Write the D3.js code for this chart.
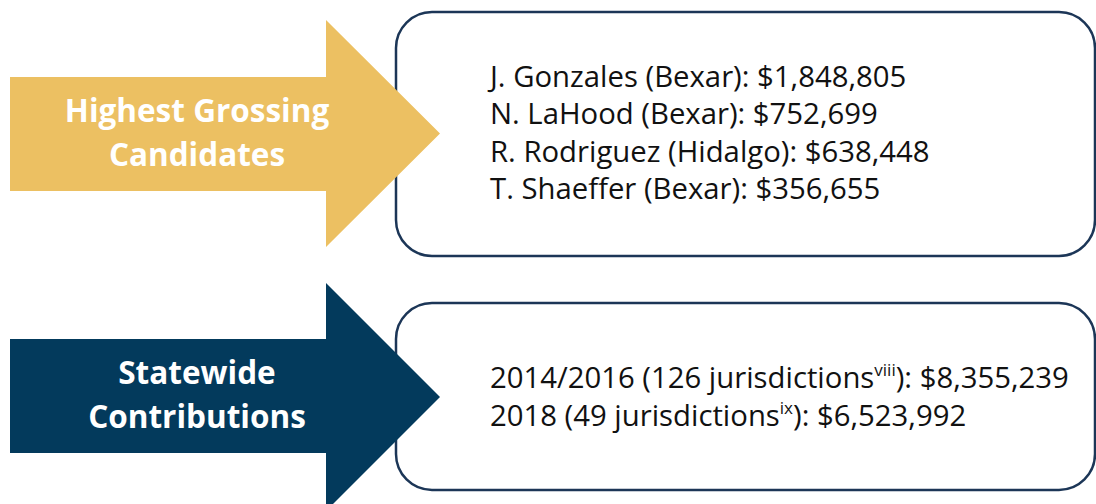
<!DOCTYPE html>
<html>
<head>
<meta charset="utf-8">
<script src="https://cdn.jsdelivr.net/npm/d3@7"></script>
<style>
  html, body { margin: 0; padding: 0; background: #fff; }
  svg { display: block; font-family: "Open Sans", sans-serif; }
</style>
</head>
<body>
<svg id="chart" width="1096" height="504"></svg>
<script>
// data
const panelTitles = [["Highest Grossing", "Candidates"], ["Statewide", "Contributions"]];
const panelColors = ["#ecc062", "#033a5c"];

const candidates = ["J. Gonzales", "N. LaHood", "R. Rodriguez", "T. Shaeffer"];
const counties = ["Bexar", "Bexar", "Hidalgo", "Bexar"];
const candidateTotals = [1848805, 752699, 638448, 356655];

const cycles = ["2014/2016", "2018"];
const jurisdictions = [126, 49];
const notes = ["viii", "ix"];
const cycleTotals = [8355239, 6523992];

const money = d3.format("$,");
const svg = d3.select("#chart");

// layout for the two rows
const rows = [
  { top: 20, bottom: 247, shaftTop: 77, shaftBot: 191, boxTop: 12, boxBot: 256 },
  { top: 283, bottom: 511, shaftTop: 339, shaftBot: 453, boxTop: 303, boxBot: 490 }
];

const arrow = (r) => {
  const mid = (r.top + r.bottom) / 2;
  return `M10,${r.shaftTop} L326,${r.shaftTop} L326,${r.top} L440,${mid} L326,${r.bottom} L326,${r.shaftBot} L10,${r.shaftBot} Z`;
};

// boxes first, arrows drawn over them
svg.selectAll("rect.box")
  .data(rows)
  .join("rect")
  .attr("class", "box")
  .attr("x", 396)
  .attr("y", d => d.boxTop)
  .attr("width", 699)
  .attr("height", d => d.boxBot - d.boxTop)
  .attr("rx", 36)
  .attr("fill", "#fff")
  .attr("stroke", "#1c3657")
  .attr("stroke-width", 2.5);

svg.selectAll("path.arrow")
  .data(rows)
  .join("path")
  .attr("class", "arrow")
  .attr("d", arrow)
  .attr("fill", (d, i) => panelColors[i]);

// arrow labels
rows.forEach((r, i) => {
  const mid = (r.shaftTop + r.shaftBot) / 2;
  svg.append("text")
    .attr("text-anchor", "middle")
    .attr("fill", "#fff")
    .attr("font-weight", 700)
    .attr("font-size", 31.5)
    .selectAll("tspan")
    .data(panelTitles[i])
    .join("tspan")
    .attr("x", 197)
    .attr("y", (d, j) => mid - 12 + j * 44)
    .text(d => d);
});

// candidate lines
const lineY = d3.scalePoint().domain(candidates).range([87, 199]);
svg.append("g")
  .selectAll("text")
  .data(candidates)
  .join("text")
  .attr("x", 490)
  .attr("y", d => lineY(d))
  .attr("font-size", 29.3)
  .attr("fill", "#111")
  .text((d, i) => `${d} (${counties[i]}): ${money(candidateTotals[i])}`);

// statewide lines
const cycleY = d3.scalePoint().domain(cycles).range([388, 426]);
const st = svg.append("g")
  .selectAll("text")
  .data(cycles)
  .join("text")
  .attr("x", 490)
  .attr("y", d => cycleY(d))
  .attr("font-size", 29.3)
  .attr("fill", "#111");
st.append("tspan").text((d, i) => `${d} (${jurisdictions[i]} jurisdictions`);
st.append("tspan").attr("dy", -12).attr("font-size", 17).text((d, i) => notes[i]);
st.append("tspan").attr("dy", 12).text((d, i) => `): ${money(cycleTotals[i])}`);
</script>
</body>
</html>
